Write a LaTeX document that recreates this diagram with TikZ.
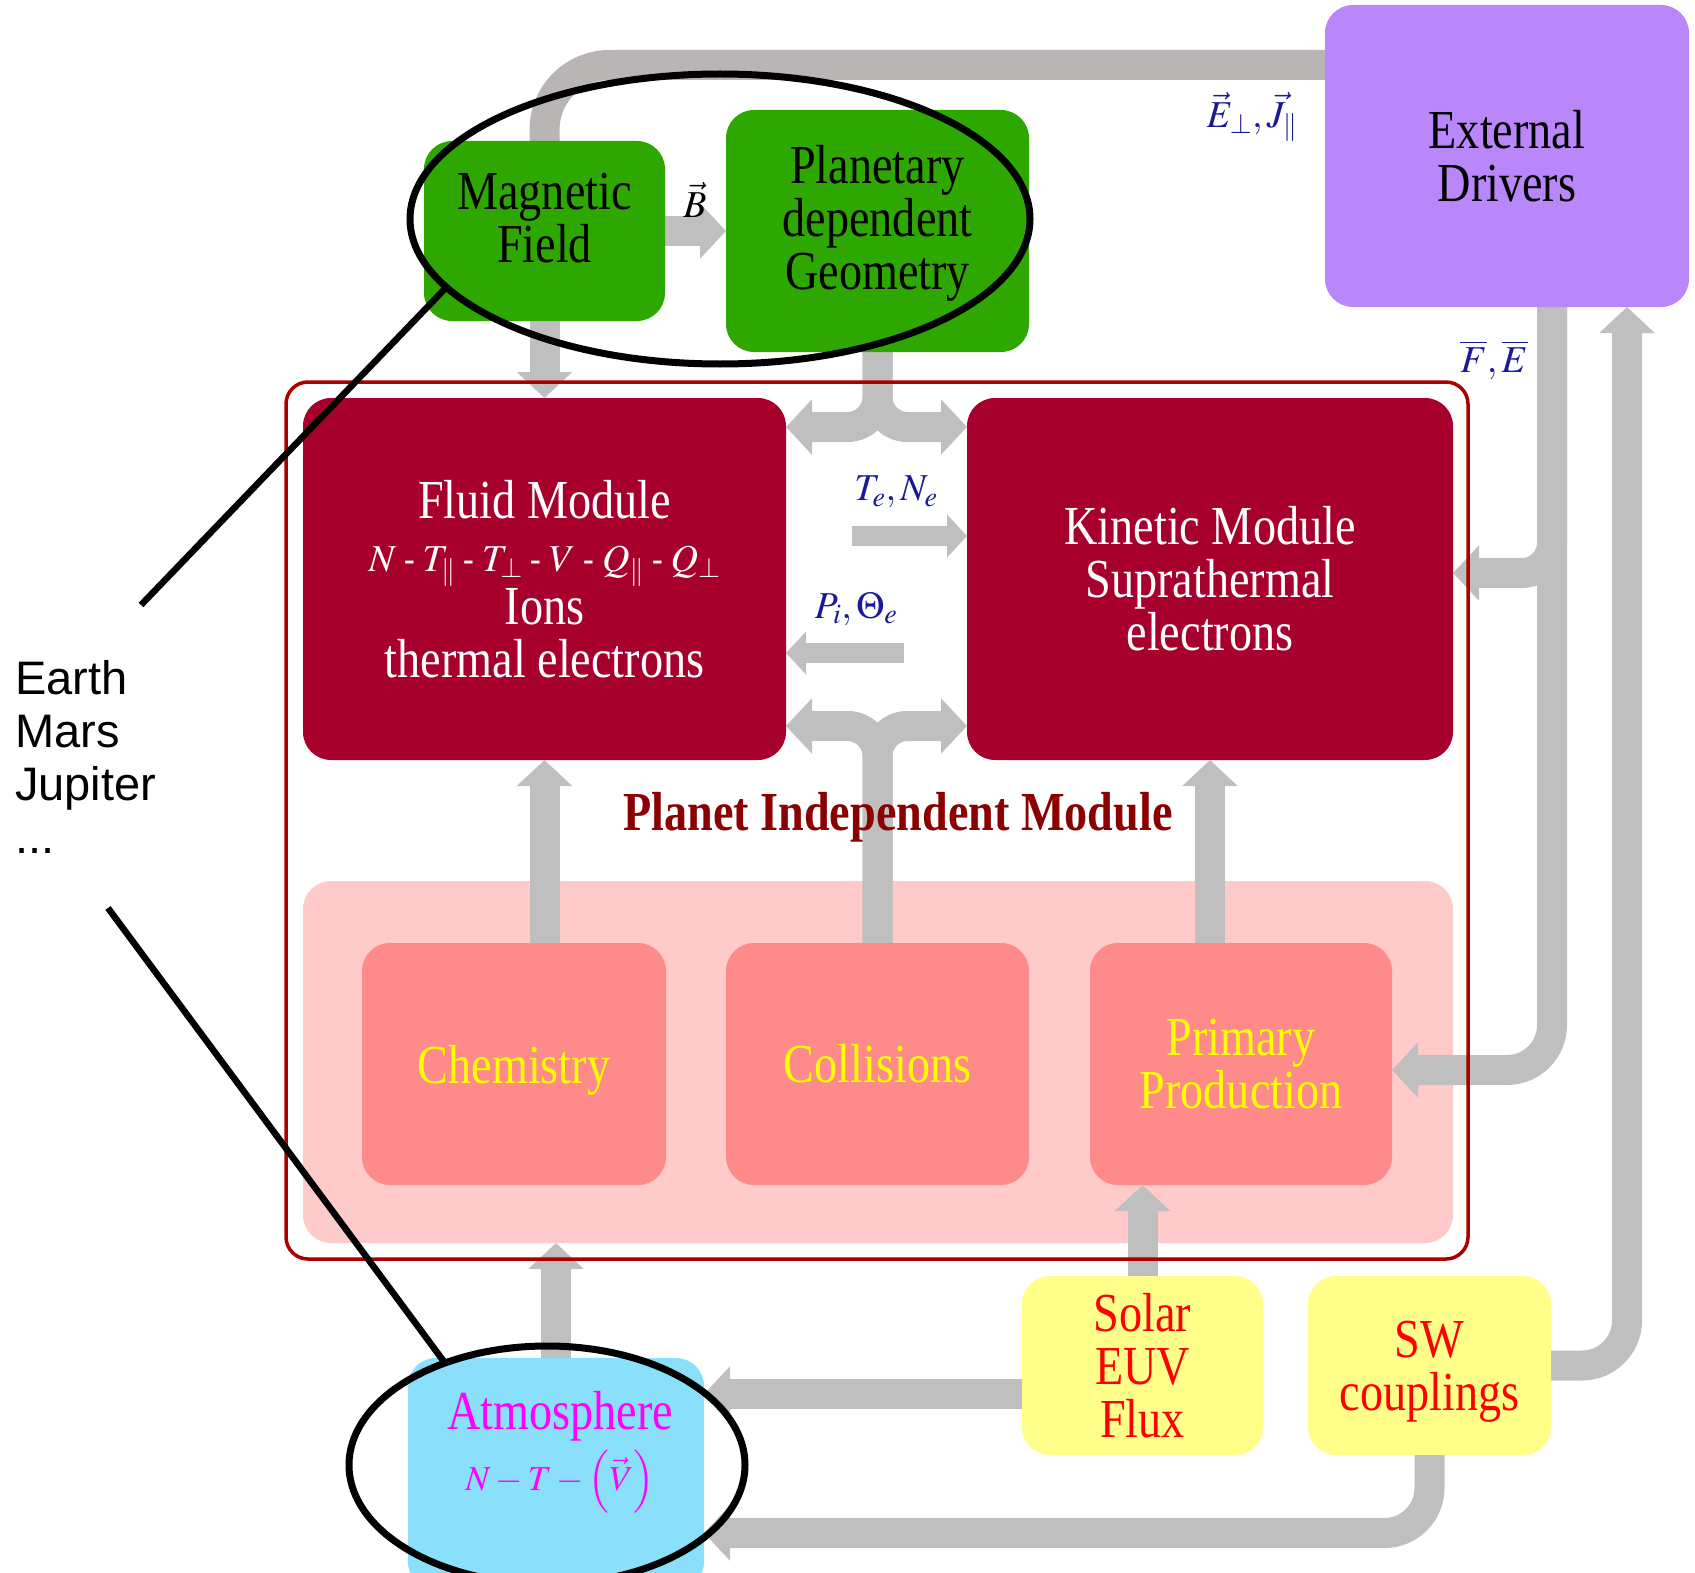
\documentclass[tikz,border=0pt]{standalone}
\usepackage{mathptmx}
\usepackage{fontspec}
\setmainfont{Liberation Serif}[FakeStretch=0.84]
\newfontfamily\planetfont{Liberation Sans}
\usetikzlibrary{arrows.meta,shapes.geometric}

\colorlet{flow color}{black!25}
\definecolor{top flow color}{HTML}{B9B5B5}
\definecolor{field color}{HTML}{2EA800}
\definecolor{module color}{HTML}{A8002D}
\definecolor{frame color}{HTML}{AA0000}
\definecolor{process background color}{HTML}{FECACA}
\definecolor{process color}{HTML}{FF8A8A}
\definecolor{driver color}{HTML}{B987F9}
\definecolor{input color}{HTML}{FFFF8A}
\definecolor{atmosphere color}{HTML}{8ADFFB}
\definecolor{quantity color}{HTML}{1A1A99}
\definecolor{title color}{HTML}{8B0000}
\definecolor{process text color}{RGB}{255,255,0}
\definecolor{input text color}{RGB}{255,0,0}
\definecolor{atmosphere text color}{RGB}{255,0,255}

\newcommand\modulefont{\fontsize{55}{53}\selectfont}
\newcommand\quantityfont{\fontsize{38}{44}\selectfont}

\pgfdeclarelayer{background}
\pgfdeclarelayer{flows}
\pgfsetlayers{background,flows,main}

\tikzset{
    x={1pt},
    y={-1pt},
    module box/.style={
        fill={#1},
        rounded corners={28pt},
        inner sep=0pt,
        outer sep=0pt,
        align=center,
        font=\modulefont,
    },
    module box/.default={module color},
    flow arrow/.style={
        draw=flow color,
        line width={30pt},
        -{Triangle[width=54pt,length=26pt]},
    },
    thin flow arrow/.style={
        draw=flow color,
        line width={20pt},
        -{Triangle[width=42pt,length=20pt]},
    },
    top flow/.style={
        draw=top flow color,
        line width={30pt},
    },
    quantity/.style={
        text=quantity color,
        font=\quantityfont,
        inner sep=0pt,
    },
    frame/.style={
        draw=frame color,
        line width={3.5pt},
        rounded corners={22pt},
    },
    ring/.style={
        ellipse, draw=black,
        line width={7pt},
        inner sep=0pt,
        outer sep=0pt,
    },
    pointer/.style={
        draw=black,
        line width={6.5pt},
    },
}

\begin{document}
\begin{tikzpicture}
\useasboundingbox (0,0) rectangle (1695,1573);
% background
\begin{pgfonlayer}{background}
\node[module box={process background color}, minimum width={1150}, minimum height={362}] (process area) at (878,1062) {};
\end{pgfonlayer}
\path[frame] (286,382) rectangle (1468,1259);
% boxes
\node[module box={field color}, text depth={26pt}, minimum width={241}, minimum height={180}] (mag) at (544.5,231) {Magnetic\\Field};
\node[module box={field color}, text depth={28pt}, minimum width={303}, minimum height={242}] (geom) at (877.5,231) {Planetary\\dependent\\Geometry};
\node[module box={driver color}, minimum width={364}, minimum height={302}] (ext) at (1507,156) {External\\Drivers};
\node[module box, text=white, minimum width={483}, minimum height={362}] (fluid) at (544.5,579)
    {Fluid Module\\{\quantityfont $N$ - $T_{\|}$ - $T_{\perp}$ - $V$ - $Q_{\|}$ - $Q_{\perp}$}\\Ions\\thermal electrons};
\node[module box, text=white, minimum width={486}, minimum height={362}] (kin) at (1210,579) {Kinetic Module\\Suprathermal\\electrons};
\node[module box={process color}, text=process text color, text depth={0pt}, minimum width={304}, minimum height={242}] (chem) at (514,1064) {Chemistry};
\node[module box={process color}, text=process text color, minimum width={303}, minimum height={242}] (coll) at (877.5,1064) {Collisions};
\node[module box={process color}, text=process text color, minimum width={302}, minimum height={242}] (prim) at (1241,1064) {Primary\\Production};
\node[module box={input color}, text=input text color, minimum width={241}, minimum height={179}] (solar) at (1142.5,1365.5) {Solar\\EUV\\Flux};
\node[module box={input color}, text=input text color, text depth={0pt}, minimum width={243}, minimum height={179}] (sw) at (1429.5,1365.5) {SW\\couplings};
\node[module box={atmosphere color}, minimum width={296}, minimum height={232}] (atm) at (556,1474) {};
\node[text=atmosphere text color, font=\modulefont, align=center, inner sep=0pt] (atm text) at (560,1452)
    {Atmosphere\\[8pt]{\fontsize{35}{44}\selectfont $N-T-\left(\vec{V}\right)$}};
\node[text=title color, font=\modulefont\bfseries, inner sep=0pt] (title) at (898,817) {Planet Independent Module};
% flows
\coordinate (tene tail) at (852,536);
\coordinate (pith tail) at (904,653);
\begin{pgfonlayer}{flows}
\draw[top flow, rounded corners={65pt}] ([yshift=-60pt]ext.north west) -| (mag.north);
\draw[flow arrow] (mag.south) -- (fluid.north);
\draw[flow arrow] (mag.east) -- (geom.west);
\draw[flow arrow, rounded corners={30pt}] (geom.south) |- ([yshift=-29pt]fluid.north east);
\draw[flow arrow, rounded corners={30pt}] (geom.south) |- ([yshift=-29pt]kin.north west);
\draw[flow arrow, rounded corners={30pt}] (coll.north) |- ([yshift=34pt]fluid.south east);
\draw[flow arrow, rounded corners={30pt}] (coll.north) |- ([yshift=34pt]kin.south west);
\draw[thin flow arrow] (tene tail) -- (tene tail -| kin.west);
\draw[thin flow arrow] (pith tail) -- (pith tail -| fluid.east);
\draw[flow arrow] (fluid.south |- chem.north) -- (fluid.south);
\draw[flow arrow] (kin.south |- prim.north) -- (kin.south);
\draw[flow arrow] (atm.north) -- (atm.north |- process area.south);
\draw[flow arrow] (solar.north) -- (solar.north |- prim.south);
\draw[flow arrow] ([yshift=-28.5pt]solar.west) -- ([yshift=-28.5pt]solar.west -| atm.east);
\draw[flow arrow, rounded corners={45pt}] (sw.south) |- ([yshift=-59pt]atm.east);
\draw[flow arrow, rounded corners={45pt}] (sw.east) -| ([xshift=120pt]ext.south);
\draw[flow arrow, rounded corners={45pt}] ([xshift=45pt]ext.south) |- ([yshift=-6pt]prim.east);
\draw[flow arrow, rounded corners={30pt}] ([xshift=45pt]ext.south) |- ([yshift=6pt]kin.east);
\end{pgfonlayer}
% quantities
\node[quantity, text=black] (b label) at (695,200) {$\vec{B}$};
\node[quantity] (ej label) at (1252,117) {$\vec{E}_{\perp},\vec{J}_{\|}$};
\node[quantity] (fe label) at (1494,360) {$\overline{F},\overline{E}$};
\node[quantity] (tene label) at (896,492) {$T_e,N_e$};
\node[quantity] (pith label) at (856,609) {$P_i,\Theta_e$};
% planets
\node[font=\planetfont\fontsize{47}{53}\selectfont, align=left, anchor=north west, inner sep=0pt] (planets) at (15,660)
    {Earth\\Mars\\Jupiter\\...};
\coordinate (list top) at (141,605);
\coordinate (list bottom) at (108,908);
\node[ring, minimum width={620}, minimum height={290}] (field ring) at (720,219) {};
\node[ring, minimum width={396}, minimum height={238}] (atmosphere ring) at (547,1465) {};
\draw[pointer] (field ring.194) -- (list top);
\draw[pointer] (list bottom) -- (atmosphere ring.135);
\end{tikzpicture}
\end{document}
